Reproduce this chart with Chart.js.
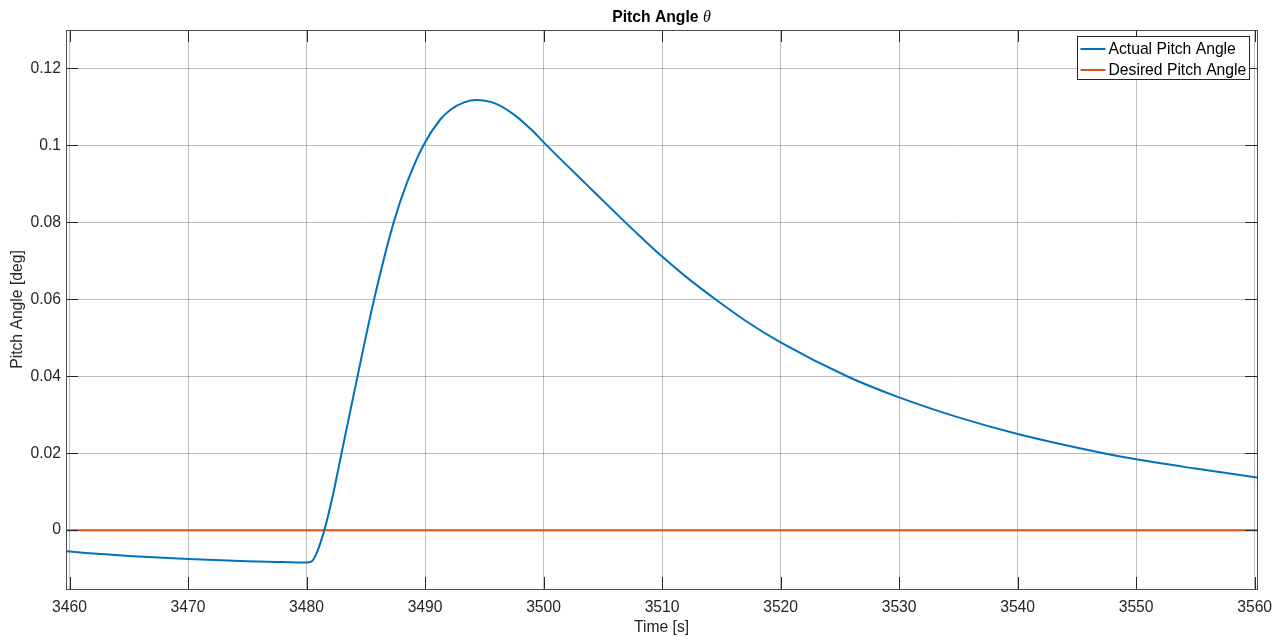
<!DOCTYPE html>
<html>
<head>
<meta charset="utf-8">
<title>Pitch Angle</title>
<script src="https://cdn.jsdelivr.net/npm/chart.js@4"></script>
<style>
    body { margin: 0; background: #fff; }
    canvas { display: block; }
</style>
</head>
<body>
<canvas id="pitchChart" width="1282" height="640"></canvas>
<script>
// simulation time [s] and measured pitch angle [deg]
const timeSec = [
    3459.7, 3462, 3465, 3470, 3475, 3478, 3480, 3480.4, 3480.8, 3481.5,
    3482.2, 3482.95, 3484.3, 3485.7, 3487.35, 3488.5, 3489.85, 3491.3, 3492.2, 3493.3,
    3494.3, 3496, 3497.5, 3499, 3500.2, 3503.5, 3506.9, 3508.2, 3510, 3512,
    3514.5, 3517, 3520, 3525.6, 3530, 3535, 3540, 3547.25, 3550, 3555, 3560.2
];
const actualPitch = [
    -0.0055, -0.0061, -0.0067, -0.0075, -0.0081, -0.0083, -0.0084, -0.0082, -0.0063, 0.0,
    0.0088, 0.02, 0.04, 0.06, 0.08, 0.0905, 0.1, 0.1068, 0.1094, 0.1112,
    0.1118, 0.1108, 0.1080, 0.1040, 0.1002, 0.0902, 0.08, 0.0762, 0.0711, 0.0659,
    0.06, 0.0545, 0.0488, 0.04, 0.0345, 0.0293, 0.025, 0.02, 0.0184, 0.016, 0.0137
];

// reference signal is held at zero
const desiredTime = [3459.7, 3560.2];
const desiredPitch = [0, 0];

const xTickValues = [3460, 3470, 3480, 3490, 3500, 3510, 3520, 3530, 3540, 3550, 3560];
const yTickValues = [0, 0.02, 0.04, 0.06, 0.08, 0.1, 0.12];

const FONT = "'Liberation Sans', Arial, Helvetica, sans-serif";
const TEXT = '#262626';

function toPoints(xs, ys) {
    return xs.map((x, i) => ({ x: x, y: ys[i] }));
}

// axes box, inward ticks, titles and the legend in the plot corner
const axesDecor = {
    id: 'axesDecor',
    afterDraw(chart) {
        const ctx = chart.ctx;
        const a = chart.chartArea;
        const xs = chart.scales.x;
        const ys = chart.scales.y;
        const tickLen = 12;

        ctx.save();
        ctx.strokeStyle = TEXT;
        ctx.lineWidth = 1;
        ctx.beginPath();
        xTickValues.forEach(v => {
            const px = Math.round(xs.getPixelForValue(v)) + 0.5;
            ctx.moveTo(px, a.bottom); ctx.lineTo(px, a.bottom - tickLen);
            ctx.moveTo(px, a.top); ctx.lineTo(px, a.top + tickLen);
        });
        yTickValues.forEach(v => {
            const py = Math.round(ys.getPixelForValue(v)) + 0.5;
            ctx.moveTo(a.left, py); ctx.lineTo(a.left + tickLen, py);
            ctx.moveTo(a.right, py); ctx.lineTo(a.right - tickLen, py);
        });
        ctx.stroke();

        ctx.strokeStyle = '#4d4d4d';
        ctx.strokeRect(Math.round(a.left) + 0.5, Math.round(a.top) + 0.5,
            Math.round(a.right - a.left), Math.round(a.bottom - a.top));

        // title: bold text followed by an italic theta
        const cx = (a.left + a.right) / 2;
        ctx.fillStyle = '#000';
        ctx.textBaseline = 'alphabetic';
        ctx.font = 'bold 15.7px ' + FONT;
        const head = 'Pitch Angle ';
        const headW = ctx.measureText(head).width;
        ctx.font = 'italic 16px "Liberation Serif", "Times New Roman", serif';
        const thetaW = ctx.measureText('θ').width;
        const startX = cx - (headW + thetaW) / 2;
        ctx.font = 'bold 15.7px ' + FONT;
        ctx.textAlign = 'left';
        ctx.fillText(head, startX, 22);
        ctx.font = 'italic 16px "Liberation Serif", "Times New Roman", serif';
        ctx.fillText('θ', startX + headW, 22);

        // axis titles
        ctx.fillStyle = TEXT;
        ctx.font = '15.7px ' + FONT;
        ctx.textAlign = 'center';
        ctx.textBaseline = 'middle';
        ctx.fillText('Time [s]', cx, 628);
        ctx.save();
        ctx.translate(18, (a.top + a.bottom) / 2);
        ctx.rotate(-Math.PI / 2);
        ctx.fillText('Pitch Angle [deg]', 0, 0);
        ctx.restore();

        // legend
        const boxW = 172, rowH = 21;
        const boxX = Math.round(a.right - 8 - boxW) + 0.5;
        const boxY = Math.round(a.top + 6) + 0.5;
        const sets = chart.data.datasets;
        ctx.fillStyle = '#fff';
        ctx.fillRect(boxX, boxY, boxW, rowH * sets.length + 1);
        ctx.strokeStyle = '#262626';
        ctx.strokeRect(boxX, boxY, boxW, rowH * sets.length + 1);
        ctx.textAlign = 'left';
        sets.forEach((ds, i) => {
            const ly = boxY + 12.5 + i * rowH;
            ctx.strokeStyle = ds.borderColor;
            ctx.lineWidth = 2;
            ctx.beginPath();
            ctx.moveTo(boxX + 3, ly);
            ctx.lineTo(boxX + 28, ly);
            ctx.stroke();
            ctx.fillStyle = '#000';
            ctx.fillText(ds.label, boxX + 31, ly + 0.5);
        });
        ctx.restore();
    }
};

document.addEventListener('DOMContentLoaded', function () {
    const ctx = document.getElementById('pitchChart').getContext('2d');
    new Chart(ctx, {
        type: 'line',
        data: {
            datasets: [
                {
                    label: 'Actual Pitch Angle',
                    data: toPoints(timeSec, actualPitch),
                    borderColor: '#0072BD',
                    borderWidth: 2,
                    pointRadius: 0,
                    cubicInterpolationMode: 'monotone',
                    fill: false
                },
                {
                    label: 'Desired Pitch Angle',
                    data: toPoints(desiredTime, desiredPitch),
                    borderColor: '#D95319',
                    borderWidth: 2,
                    pointRadius: 0,
                    fill: false
                }
            ]
        },
        options: {
            responsive: false,
            animation: false,
            devicePixelRatio: 1,
            layout: { padding: { left: 0, right: 25, top: 30, bottom: 0 } },
            plugins: {
                legend: { display: false },
                title: { display: false },
                tooltip: { enabled: false }
            },
            scales: {
                x: {
                    type: 'linear',
                    min: 3459.7,
                    max: 3560.2,
                    afterBuildTicks: scale => { scale.ticks = xTickValues.map(v => ({ value: v })); },
                    afterFit: scale => { scale.height = 51; },
                    grid: { color: 'rgba(0, 0, 0, 0.26)', drawTicks: false },
                    border: { display: false },
                    ticks: {
                        padding: 9,
                        color: TEXT,
                        font: { family: FONT, size: 15.7 },
                        maxRotation: 0,
                        callback: v => String(v)
                    }
                },
                y: {
                    type: 'linear',
                    min: -0.0153,
                    max: 0.13,
                    afterBuildTicks: scale => { scale.ticks = yTickValues.map(v => ({ value: v })); },
                    afterFit: scale => { scale.width = 66; },
                    grid: { color: 'rgba(0, 0, 0, 0.26)', drawTicks: false },
                    border: { display: false },
                    ticks: {
                        padding: 5,
                        color: TEXT,
                        font: { family: FONT, size: 15.7 },
                        callback: v => String(parseFloat(v.toFixed(4)))
                    }
                }
            }
        },
        plugins: [axesDecor]
    });
});
</script>
</body>
</html>
